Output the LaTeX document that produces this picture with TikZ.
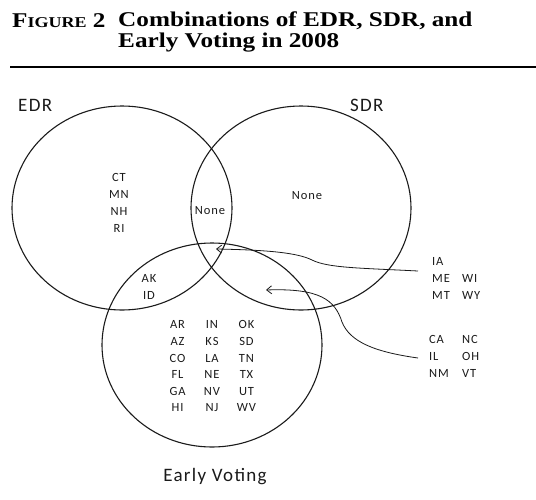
\documentclass[tikz,border=0pt]{standalone}
\usepackage{fontspec}
\usepackage{array}
\usetikzlibrary{positioning,arrows.meta,shapes.geometric}
\newfontfamily\titlefont{Liberation Serif}
\newfontfamily\vennfont[LetterSpace=7]{Carlito}
\definecolor{ink}{HTML}{1A1A1A}
\tikzset{
  setring/.style={ellipse, draw=ink, line width=1.1pt, minimum width=220pt,
                  minimum height=204pt, inner sep=0pt},
  setname/.style={inner sep=0pt, text=ink, font=\vennfont\fontsize{19}{19}\selectfont},
  states/.style={inner sep=0pt, align=center, text=ink, font=\vennfont\fontsize{12.5}{17}\selectfont},
  titletext/.style={inner sep=0pt, anchor=base west, xscale=1.2, transform shape,
                    font=\titlefont\bfseries\fontsize{21}{21}\selectfont},
  pointer/.style={-{Straight Barb[length=5pt, width=8pt]}, line width=0.8pt, draw=ink}
}

\begin{document}
\begin{tikzpicture}[x=1pt, y=-1pt]
\useasboundingbox (0,0) rectangle (536,499);
% heading
\node[titletext] (fig) at (12,27) {F{\fontsize{15}{15}\selectfont IGURE} 2};
\node[titletext] (head1) at (118,26) {Combinations of EDR, SDR, and};
\node[titletext] (head2) at (118,47) {Early Voting in 2008};
\draw[line width=2pt] (10,67) -- (536,67);

% the three sets
\node[setring] (edr) at (122,208) {};
\node[setring] (sdr) at (301,208) {};
\node[setring] (early) at (212,345) {};
\node[setname, anchor=west] (edrname) at (18,105) {EDR};
\node[setname, anchor=west] (sdrname) at (350,105) {SDR};
\node[setname, anchor=base] (earlyname) at (215,481) {Early Voting};

% states in each region
\node[states] (edronly) at (119,203) {CT\\MN\\NH\\RI};
\node[states] (edrsdr) at (210,211) {None};
\node[states] (sdronly) at (307,196) {None};
\node[states] (edrearly) at (149,287) {AK\\ID};
\node[states] (earlyonly) at (212,367) {\fontsize{12.5}{16.6}\selectfont
  \begin{tabular}{@{}*{3}{>{\centering\arraybackslash}p{34.5pt}@{}}}
  AR & IN & OK\\ AZ & KS & SD\\ CO & LA & TN\\
  FL & NE & TX\\ GA & NV & UT\\ HI & NJ & WV
  \end{tabular}};
\node[states, anchor=west] (allthree) at (432,279) {%
  \begin{tabular}{@{}>{\raggedright\arraybackslash}p{30pt}@{}l@{}}
  IA & \\ ME & WI\\ MT & WY
  \end{tabular}};
\node[states, anchor=west] (sdrearly) at (429,357) {%
  \begin{tabular}{@{}>{\raggedright\arraybackslash}p{33pt}@{}l@{}}
  CA & NC\\ IL & OH\\ NM & VT
  \end{tabular}};

% pointers into the overlaps
\coordinate (allfoot) at (418,271);
\coordinate (alltip) at (216,249);
\coordinate (sefoot) at (418,358);
\coordinate (setip) at (266,290);
\draw[pointer] (allfoot) .. controls (360,268) and (328,268) .. (312,260)
  .. controls (298,253) and (270,250) .. (alltip);
\draw[pointer] (sefoot) .. controls (375,352) and (350,342) .. (342,322)
  .. controls (335,300) and (320,288) .. (setip);
\end{tikzpicture}
\end{document}
